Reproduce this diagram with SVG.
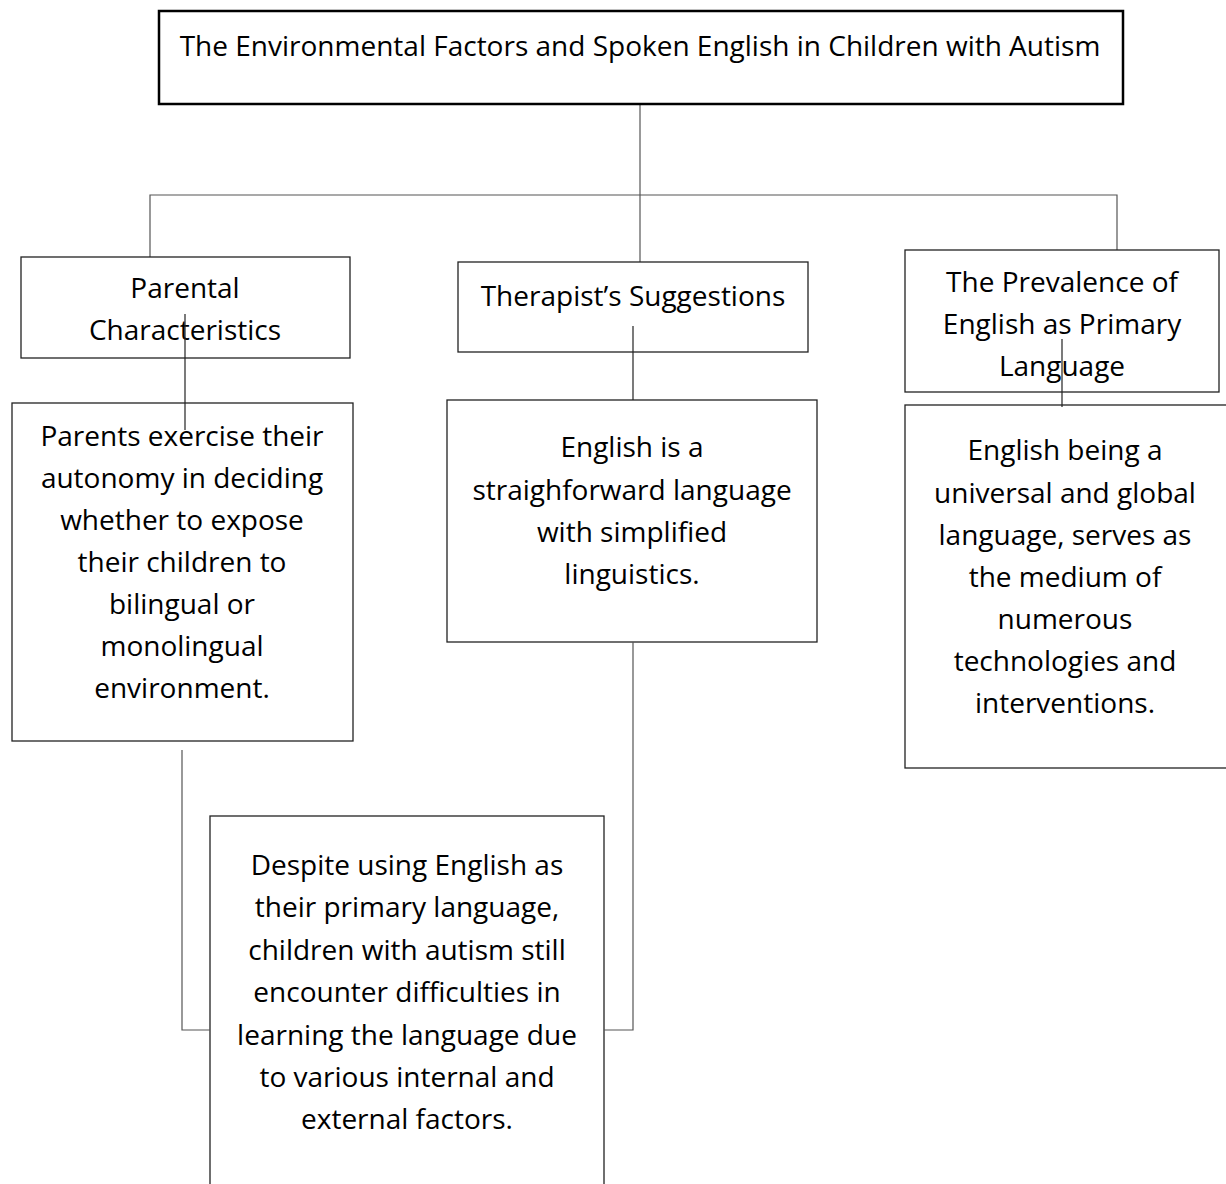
<svg xmlns="http://www.w3.org/2000/svg" width="1226" height="1184" viewBox="0 0 1226 1184">
<style>
.box{fill:#fff;stroke:#222;stroke-width:1.3}
.title{fill:#fff;stroke:#000;stroke-width:2.5}
.t{font-family:"Open Sans",Lato,"Liberation Sans",sans-serif;font-size:28px;fill:#000;text-anchor:middle}
.c{fill:none;stroke:#555;stroke-width:1.2}
.c2{fill:none;stroke:#222;stroke-width:1.2}
</style>
<rect width="1226" height="1184" fill="#fff"/>
<g id="connectors-top">
<path class="c" d="M640,104 V195"/>
<path class="c" d="M150,257 V195 H1117 V250"/>
<path class="c" d="M640,195 V262"/>
</g>
<g id="node-title">
<rect class="title" x="159" y="11" width="964" height="93"/>
<text class="t" x="640" y="56">The Environmental Factors and Spoken English in Children with Autism</text>
</g>
<g id="node-parental">
<rect class="box" x="21" y="257" width="329" height="101"/>
<text class="t" x="185" y="298">Parental</text>
<text class="t" x="185" y="340">Characteristics</text>
</g>
<g id="node-therapist">
<rect class="box" x="458" y="262" width="350" height="90"/>
<text class="t" x="633" y="306">Therapist’s Suggestions</text>
</g>
<g id="node-prevalence">
<rect class="box" x="905" y="250" width="314" height="142"/>
<text class="t" x="1062" y="292">The Prevalence of</text>
<text class="t" x="1062" y="334">English as Primary</text>
<text class="t" x="1062" y="376">Language</text>
</g>
<g id="node-parents">
<rect class="box" x="12" y="403" width="341" height="338"/>
<text class="t" x="182" y="446">Parents exercise their</text>
<text class="t" x="182" y="488">autonomy in deciding</text>
<text class="t" x="182" y="530">whether to expose</text>
<text class="t" x="182" y="572">their children to</text>
<text class="t" x="182" y="614">bilingual or</text>
<text class="t" x="182" y="656">monolingual</text>
<text class="t" x="182" y="698">environment.</text>
</g>
<g id="node-english">
<rect class="box" x="447" y="400" width="370" height="242"/>
<text class="t" x="632" y="457">English is a</text>
<text class="t" x="632" y="500">straighforward language</text>
<text class="t" x="632" y="542">with simplified</text>
<text class="t" x="632" y="584">linguistics.</text>
</g>
<g id="node-global">
<rect class="box" x="905" y="405" width="325" height="363"/>
<text class="t" x="1065" y="460">English being a</text>
<text class="t" x="1065" y="503">universal and global</text>
<text class="t" x="1065" y="545">language, serves as</text>
<text class="t" x="1065" y="587">the medium of</text>
<text class="t" x="1065" y="629">numerous</text>
<text class="t" x="1065" y="671">technologies and</text>
<text class="t" x="1065" y="713">interventions.</text>
</g>
<g id="node-despite">
<rect class="box" x="210" y="816" width="394" height="380"/>
<text class="t" x="407" y="875">Despite using English as</text>
<text class="t" x="407" y="917">their primary language,</text>
<text class="t" x="407" y="960">children with autism still</text>
<text class="t" x="407" y="1002">encounter difficulties in</text>
<text class="t" x="407" y="1045">learning the language due</text>
<text class="t" x="407" y="1087">to various internal and</text>
<text class="t" x="407" y="1129">external factors.</text>
</g>
<g id="connectors">
<path class="c2" d="M185,314 V430"/>
<path class="c2" d="M633,326 V400"/>
<path class="c2" d="M1062,339 V407"/>
<path class="c" d="M182,750 V1030 H210"/>
<path class="c" d="M633,642 V1030 H604"/>
</g>
</svg>
